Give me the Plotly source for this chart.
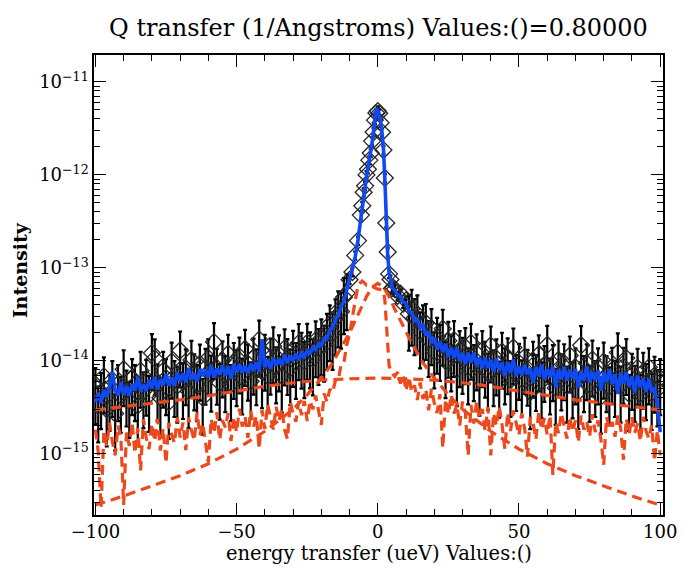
import plotly.graph_objects as go

# Energy grid (ueV): 1 ueV steps in the wings, 0.5 ueV steps across the elastic peak
energy_left = list(range(-100, -6))
energy_core = [k / 2 for k in range(-12, 12)]
energy_right = list(range(6, 101))
energy = energy_left + energy_core + energy_right

# Measured intensity
data_left = [
    5.2e-15, 3.3e-15, 4.6e-15, 6.8e-15, 3.0e-15, 4.4e-15, 6.2e-15, 2.7e-15, 5.6e-15, 4.2e-15,
    8.1e-15, 4.9e-15, 3.7e-15, 6.5e-15, 5.6e-15, 3.3e-15, 7.8e-15, 4.7e-15, 6.4e-15, 4.3e-15,
    1.21e-14, 1.06e-14, 5.7e-15, 4.0e-15, 7.8e-15, 6.5e-15, 3.6e-15, 9.8e-15, 6.2e-15, 5.4e-15,
    1.29e-14, 5.9e-15, 8.3e-15, 4.7e-15, 1.02e-14, 7.3e-15, 5.6e-15, 9.3e-15, 4.0e-15, 8.4e-15,
    1.07e-14, 7.1e-15, 1.59e-14, 8.4e-15, 5.8e-15, 1.01e-14, 7.0e-15, 1.19e-14, 5.6e-15, 9.7e-15,
    8.1e-15, 1.11e-14, 6.6e-15, 1.34e-14, 9.3e-15, 6.0e-15, 1.08e-14, 8.3e-15, 1.69e-14, 7.7e-15,
    1.19e-14, 6.9e-15, 1.08e-14, 1.43e-14, 8.7e-15, 1.17e-14, 6.9e-15, 1.36e-14, 1.07e-14, 8.3e-15,
    1.31e-14, 9.7e-15, 1.55e-14, 1.25e-14, 9.9e-15, 1.56e-14, 1.26e-14, 1.06e-14, 1.66e-14, 1.37e-14,
    1.74e-14, 1.49e-14, 2.0e-14, 2.47e-14, 1.99e-14, 2.86e-14, 3.48e-14, 3.38e-14, 4.83e-14, 5.34e-14,
    7.43e-14, 9.0e-14, 1.36e-13, 1.96e-13,
]
data_core = [
    3.69e-13, 4.65e-13, 6.5e-13, 7.62e-13, 1.0e-12, 1.15e-12, 1.44e-12, 1.72e-12,
    2.31e-12, 2.89e-12, 3.88e-12, 4.63e-12, 4.86e-12, 4.6e-12, 3.64e-12, 2.87e-12,
    1.85e-12, 9.27e-13, 3.03e-13, 1.48e-13, 8.6e-14, 7.5e-14, 6.0e-14, 6.1e-14,
]
data_right = [
    5.88e-14, 4.99e-14, 5.27e-14, 4.11e-14, 4.46e-14, 3.2e-14, 3.63e-14, 2.88e-14, 3.16e-14, 2.07e-14,
    2.46e-14, 2.55e-14, 1.67e-14, 2.24e-14, 1.26e-14, 1.81e-14, 1.52e-14, 2.21e-14, 9.9e-15, 1.64e-14,
    1.17e-14, 1.67e-14, 8.1e-15, 1.3e-14, 1.1e-14, 1.4e-14, 8.5e-15, 1.56e-14, 9.2e-15, 1.2e-14,
    6.4e-15, 1.3e-14, 1.0e-14, 7.4e-15, 1.46e-14, 8.1e-15, 1.06e-14, 6.1e-15, 1.25e-14, 8.5e-15,
    1.09e-14, 6.2e-15, 1.39e-14, 7.2e-15, 9.5e-15, 6.3e-15, 1.1e-14, 8.2e-15, 4.6e-15, 1.0e-14,
    7.2e-15, 1.17e-14, 6.0e-15, 9.0e-15, 1.48e-14, 6.6e-15, 9.2e-15, 5.1e-15, 1.02e-14, 7.3e-15,
    9.4e-15, 5.4e-15, 1.14e-14, 6.0e-15, 8.5e-15, 4.6e-15, 1.47e-14, 7.0e-15, 9.4e-15, 5.5e-15,
    1.03e-14, 6.2e-15, 8.5e-15, 4.1e-15, 9.8e-15, 7.0e-15, 5.3e-15, 8.6e-15, 6.2e-15, 1.23e-14,
    5.4e-15, 8.6e-15, 1.07e-14, 4.4e-15, 7.4e-15, 5.5e-15, 8.4e-15, 4.4e-15, 7.6e-15, 5.75e-15,
    8.5e-15, 4.5e-15, 6.9e-15, 4.9e-15, 6.5e-15,
]

# Total fit
fit_left = [
    3.58e-15, 4.47e-15, 3.52e-15, 4.85e-15, 4.08e-15, 5.24e-15, 7.58e-15, 4.78e-15, 4.27e-15, 5.89e-15,
    4.31e-15, 5.35e-15, 4.19e-15, 5.6e-15, 4.81e-15, 6.67e-15, 4.68e-15, 5.53e-15, 4.71e-15, 6.23e-15,
    5.06e-15, 6.68e-15, 4.92e-15, 6.3e-15, 5.52e-15, 7.19e-15, 5.4e-15, 6.59e-15, 5.36e-15, 7.49e-15,
    6.01e-15, 7.34e-15, 5.84e-15, 8.41e-15, 6.28e-15, 7.27e-15, 5.97e-15, 8.19e-15, 6.85e-15, 8.04e-15,
    6.67e-15, 8.98e-15, 6.57e-15, 8.23e-15, 7.15e-15, 8.85e-15, 6.89e-15, 8.69e-15, 6.38e-15, 9.26e-15,
    7.48e-15, 9.18e-15, 7.45e-15, 8.77e-15, 7.33e-15, 9.36e-15, 7.94e-15, 9.63e-15, 7.54e-15, 1.71e-14,
    8.57e-15, 1.02e-14, 8.25e-15, 1.07e-14, 8.87e-15, 1.04e-14, 8.92e-15, 1.16e-14, 9.49e-15, 1.12e-14,
    9.98e-15, 1.19e-14, 1.02e-14, 1.21e-14, 1.11e-14, 1.3e-14, 1.17e-14, 1.39e-14, 1.32e-14, 1.5e-14,
    1.46e-14, 1.74e-14, 1.73e-14, 2.14e-14, 2.27e-14, 2.8e-14, 3.1e-14, 3.84e-14, 4.38e-14, 5.73e-14,
    7.01e-14, 9.39e-14, 1.31e-13, 2.0e-13,
]
fit_core = [
    3.55e-13, 4.79e-13, 6.31e-13, 7.94e-13, 9.55e-13, 1.18e-12, 1.41e-12, 1.78e-12,
    2.24e-12, 2.95e-12, 3.8e-12, 5.2e-12, 5.0e-12, 4.47e-12, 3.72e-12, 2.82e-12,
    1.91e-12, 8.91e-13, 3.16e-13, 1.41e-13, 8.9e-14, 7.1e-14, 6.3e-14, 5.9e-14,
]
fit_right = [
    5.71e-14, 5.09e-14, 4.93e-14, 4.29e-14, 4.14e-14, 3.37e-14, 3.32e-14, 2.71e-14, 2.79e-14, 2.26e-14,
    2.42e-14, 1.88e-14, 2.05e-14, 1.55e-14, 1.77e-14, 1.33e-14, 1.6e-14, 1.24e-14, 1.52e-14, 1.1e-14,
    1.38e-14, 1.07e-14, 1.37e-14, 9.94e-15, 1.21e-14, 9.18e-15, 1.22e-14, 9.57e-15, 1.22e-14, 8.8e-15,
    1.08e-14, 8.3e-15, 1.09e-14, 8.37e-15, 1.02e-14, 7.65e-15, 1.06e-14, 7.88e-15, 9.49e-15, 6.81e-15,
    9.66e-15, 7.47e-15, 1.03e-14, 6.84e-15, 8.73e-15, 6.94e-15, 9.02e-15, 7.16e-15, 8.35e-15, 5.76e-15,
    8.53e-15, 6.81e-15, 9.02e-15, 6.34e-15, 8.15e-15, 6.64e-15, 8.67e-15, 5.12e-15, 8.01e-15, 6.38e-15,
    8.65e-15, 6.1e-15, 7.87e-15, 6.54e-15, 8.14e-15, 5.08e-15, 7.71e-15, 6.14e-15, 8.69e-15, 5.88e-15,
    7.58e-15, 6.17e-15, 7.84e-15, 4.75e-15, 7.57e-15, 5.9e-15, 7.97e-15, 5.59e-15, 7.17e-15, 4.39e-15,
    7.36e-15, 5.72e-15, 7.55e-15, 5.3e-15, 6.79e-15, 4.57e-15, 6.9e-15, 5.21e-15, 6.42e-15, 4.6e-15,
    6.36e-15, 4.77e-15, 5.0e-15, 3.5e-15, 1.7e-15,
]

# Resolution-shaped fit component (noisy)
noisy_left = [
    1.82e-15, 1.05e-15, 2.6e-16, 1.73e-15, 1.21e-15, 2.16e-15, 1.36e-15, 9.6e-16, 2.0e-15, 1.53e-15,
    2.8e-16, 1.69e-15, 1.21e-15, 2.15e-15, 1.01e-15, 1.89e-15, 6.6e-16, 2.35e-15, 1.48e-15, 1.12e-15,
    2.1e-15, 1.36e-15, 2.37e-15, 1.08e-15, 1.87e-15, 7.9e-16, 2.15e-15, 1.6e-15, 1.3e-15, 2.45e-15,
    1.49e-15, 2.16e-15, 1.09e-15, 2.45e-15, 1.8e-15, 1.38e-15, 2.78e-15, 1.58e-15, 2.12e-15, 1.25e-15,
    8.1e-16, 2.37e-15, 1.66e-15, 2.79e-15, 1.41e-15, 2.28e-15, 1.92e-15, 2.72e-15, 1.37e-15, 2.48e-15,
    1.7e-15, 3.05e-15, 1.96e-15, 2.51e-15, 1.48e-15, 2.9e-15, 1.96e-15, 2.54e-15, 1.12e-15, 2.95e-15,
    1.84e-15, 3.39e-15, 2.38e-15, 1.82e-15, 3.2e-15, 2.25e-15, 3.05e-15, 1.81e-15, 1.44e-15, 3.59e-15,
    2.7e-15, 2.21e-15, 3.67e-15, 2.59e-15, 3.68e-15, 2.25e-15, 3.7e-15, 3.0e-15, 4.21e-15, 2.82e-15,
    2.04e-15, 4.44e-15, 3.6e-15, 4.95e-15, 4.56e-15, 6.16e-15, 6.12e-15, 9.13e-15, 9.5e-15, 1.48e-14,
    1.9e-14, 2.94e-14, 4.37e-14, 6.5e-14,
]
noisy_core = [
    7.0e-14, 7.2e-14, 7.0e-14, 6.8e-14, 6.5e-14, 6.6e-14, 6.5e-14, 6.3e-14,
    6.2e-14, 6.1e-14, 6.0e-14, 6.0e-14, 5.9e-14, 5.9e-14, 5.8e-14, 5.7e-14,
    5.6e-14, 4.5e-14, 2.5e-14, 1.41e-14, 8.9e-15, 7.9e-15, 7.6e-15, 7.1e-15,
]
noisy_right = [
    6.8e-15, 7.53e-15, 5.67e-15, 7.14e-15, 4.76e-15, 6.73e-15, 4.64e-15, 5.43e-15, 3.78e-15, 5.85e-15,
    3.87e-15, 4.92e-15, 2.93e-15, 5.0e-15, 3.5e-15, 2.74e-15, 4.37e-15, 1.15e-15, 3.86e-15, 2.68e-15,
    4.31e-15, 2.71e-15, 3.38e-15, 2.01e-15, 3.64e-15, 2.76e-15, 9.5e-16, 3.35e-15, 2.11e-15, 3.64e-15,
    2.43e-15, 3.02e-15, 1.74e-15, 3.17e-15, 9.6e-16, 2.73e-15, 1.99e-15, 3.23e-15, 2.05e-15, 1.13e-15,
    2.78e-15, 1.75e-15, 2.92e-15, 2.13e-15, 1.58e-15, 2.72e-15, 1.87e-15, 9.3e-16, 2.47e-15, 2.15e-15,
    1.43e-15, 2.84e-15, 1.82e-15, 2.41e-15, 1.6e-15, 2.59e-15, 5.9e-16, 2.17e-15, 1.67e-15, 2.73e-15,
    1.94e-15, 1.45e-15, 2.5e-15, 1.72e-15, 2.28e-15, 1.33e-15, 2.57e-15, 1.81e-15, 2.19e-15, 1.52e-15,
    2.66e-15, 1.71e-15, 2.28e-15, 1.43e-15, 7.6e-16, 2.47e-15, 1.81e-15, 2.19e-15, 1.52e-15, 2.57e-15,
    1.9e-15, 8.6e-16, 2.38e-15, 1.62e-15, 2.47e-15, 1.68e-15, 2.12e-15, 1.36e-15, 2.49e-15, 1.75e-15,
    1.46e-15, 2.03e-15, 8.3e-16, 1.79e-15, 9.6e-16,
]

# Narrow Lorentzian component
narrow_energy = [-100, -90, -80, -70, -60, -50, -40, -30, -25, -20, -16, -12, -10, -8, -6, -4, -2, 0,
                 2, 4, 6, 8, 10, 12, 16, 20, 25, 30, 40, 50, 60, 70, 80, 90, 100]
narrow_lorentz = [
    2.8e-16, 3.5e-16, 4.5e-16, 5.8e-16, 7.8e-16, 1.12e-15, 1.74e-15, 3.0e-15, 4.3e-15, 6.5e-15,
    9.5e-15, 1.55e-14, 2.0e-14, 2.7e-14, 3.6e-14, 4.9e-14, 6.2e-14, 6.8e-14,
    6.2e-14, 4.9e-14, 3.6e-14, 2.7e-14, 2.0e-14, 1.55e-14, 9.5e-15, 6.5e-15, 4.3e-15, 3.0e-15,
    1.74e-15, 1.12e-15, 7.8e-16, 5.8e-16, 4.5e-16, 3.5e-16, 2.8e-16,
]

# Broad Lorentzian component
broad_energy = [-100, -90, -80, -70, -60, -50, -40, -30, -20, -10, 0,
                10, 20, 30, 40, 50, 60, 70, 80, 90, 100]
broad_lorentz = [
    2.95e-15, 3.2e-15, 3.5e-15, 3.8e-15, 4.2e-15, 4.7e-15, 5.3e-15, 5.8e-15, 6.2e-15, 6.4e-15, 6.5e-15,
    6.4e-15, 6.2e-15, 5.8e-15, 5.3e-15, 4.7e-15, 4.2e-15, 3.8e-15, 3.5e-15, 3.2e-15, 2.95e-15,
]

# Relative uncertainty (%) of the counts: wings vs. elastic peak
wing_error_pct = 60
peak_error_pct = 10

y_major = [1e-15, 1e-14, 1e-13, 1e-12, 1e-11]
y_major_text = ["10<sup>\u221215</sup>", "10<sup>\u221214</sup>", "10<sup>\u221213</sup>",
                "10<sup>\u221212</sup>", "10<sup>\u221211</sup>"]
x_major = [-100, -50, 0, 50, 100]

intensity = data_left + data_core + data_right
fit_total = fit_left + fit_core + fit_right
noisy_part = noisy_left + noisy_core + noisy_right

RED = "#ec4a1c"
BLUE = "#0f49f2"
FONT = "DejaVu Serif"

wing_x = [e for e in energy if abs(e) > 10]
wing_y = [v for e, v in zip(energy, intensity) if abs(e) > 10]
peak_x = [e for e in energy if abs(e) <= 10]
peak_y = [v for e, v in zip(energy, intensity) if abs(e) <= 10]

marker_style = dict(symbol="diamond-open", size=13, color="#262626", line=dict(width=1.3))

fig = go.Figure()
fig.add_trace(go.Scatter(
    x=wing_x, y=wing_y, mode="markers", marker=marker_style,
    error_y=dict(type="percent", value=wing_error_pct, color="black", thickness=2.2, width=2),
))
fig.add_trace(go.Scatter(
    x=peak_x, y=peak_y, mode="markers", marker=marker_style,
    error_y=dict(type="percent", value=peak_error_pct, color="black", thickness=2.2, width=2),
))
fig.add_trace(go.Scatter(x=energy, y=fit_total, mode="lines",
                         line=dict(color=BLUE, width=3.6)))
for xs, ys in ((energy, noisy_part), (narrow_energy, narrow_lorentz), (broad_energy, broad_lorentz)):
    fig.add_trace(go.Scatter(x=xs, y=ys, mode="lines",
                             line=dict(color=RED, width=3.2, dash="10px,6px")))

y_minor = [k * 10.0 ** p for p in range(-16, -10) for k in range(2, 10)]

axis_common = dict(
    showline=True, linecolor="black", linewidth=1.5, mirror="ticks",
    ticks="inside", ticklen=12, tickwidth=1.3, tickcolor="black",
    showgrid=False, zeroline=False, ticklabeloverflow="allow",
    tickfont=dict(family=FONT, size=18, color="black"),
)

fig.update_layout(
    width=689, height=571,
    margin=dict(l=94, r=13, t=55, b=56),
    paper_bgcolor="white", plot_bgcolor="white",
    showlegend=False,
    title=dict(text="Q transfer (1/Angstroms) Values:()=0.80000",
               font=dict(family=FONT, size=24, color="black"),
               x=0.5, xref="paper", xanchor="center",
               y=0.951, yref="container", yanchor="middle"),
    xaxis=dict(range=[-100.5, 101], tickvals=x_major,
               minor=dict(dtick=10, tick0=0, ticks="inside", ticklen=6,
                          tickwidth=1.1, tickcolor="black"),
               **axis_common),
    yaxis=dict(type="log", range=[-15.66, -10.71], tickvals=y_major, ticktext=y_major_text,
               minor=dict(tickvals=y_minor, ticks="inside", ticklen=6,
                          tickwidth=1.1, tickcolor="black"),
               **axis_common),
    annotations=[
        dict(text="energy transfer (ueV) Values:()", xref="paper", yref="paper",
             x=0.5, y=-0.083, xanchor="center", yanchor="middle", showarrow=False,
             font=dict(family=FONT, size=19.5, color="black")),
        dict(text="<b>Intensity</b>", xref="paper", yref="paper",
             x=-0.131, y=0.533, xanchor="center", yanchor="middle", textangle=-90,
             showarrow=False, font=dict(family=FONT, size=19, color="black")),
    ],
)

fig.write_html("out.html")
